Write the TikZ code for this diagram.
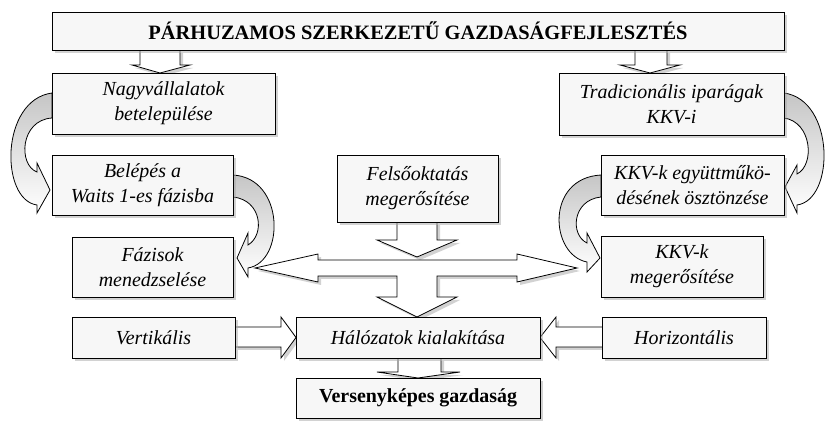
\documentclass[tikz,border=0pt]{standalone}
\usepackage{fontspec}
\setmainfont{Liberation Serif}
\usetikzlibrary{shadows}

\tikzset{
  box/.style={draw,thick,fill=gray!6,align=center,inner sep=2bp,
    font=\fontsize{20}{25}\selectfont\itshape,
    drop shadow={shadow xshift=3bp,shadow yshift=-3bp,fill=gray!70}},
  blockarrow/.style={draw,thick,fill=white,
    drop shadow={shadow xshift=3bp,shadow yshift=-3bp,fill=gray!70}},
  curvearrow/.style={draw,thick,top color=gray!45,bottom color=white}
}

\begin{document}
\begin{tikzpicture}[x=1bp,y=-1bp]
\useasboundingbox (0,0) rectangle (836,433);

% block arrows
\filldraw[blockarrow] (140,50)--(140,65)--(132,65)--(160,73)--(190,65)--(180,65)--(180,50);
\filldraw[blockarrow] (635,50)--(635,65)--(620,65)--(650,73)--(680,65)--(667,65)--(667,50);
\filldraw[blockarrow] (397,222)--(397,240)--(377,240)--(417,257)--(457,240)--(437,240)--(437,222);
\filldraw[blockarrow] (255,268)--(318,254)--(318,260)--(517,260)--(517,254)--(577,268)--(517,282)--(517,276)
  --(437,276)--(437,297)--(457,297)--(417,317)--(377,297)--(397,297)--(397,276)--(318,276)--(318,282)--cycle;
\filldraw[blockarrow] (235,327)--(281,327)--(281,317)--(296,337.5)--(281,358)--(281,347)--(235,347);
\filldraw[blockarrow] (602,327)--(556,327)--(556,317)--(540,337.5)--(556,358)--(556,347)--(602,347);
\filldraw[blockarrow] (398,358)--(398,372)--(377,372)--(418,378)--(460,372)--(441,372)--(441,358);

% curved arrows
\path[curvearrow] (52,93) .. controls (0,100) and (0,200) .. (37,205) -- (37,213) -- (50,190) -- (37,163) -- (37,172)
  .. controls (18,165) and (20,120) .. (52,118) -- cycle;
\path[curvearrow] (233,175) .. controls (285,178) and (285,262) .. (248,268) -- (248,277) -- (237,258) -- (248,233) -- (248,245)
  .. controls (265,235) and (262,200) .. (233,197) -- cycle;
\path[curvearrow] (784,93) .. controls (835,100) and (835,200) .. (797,205) -- (797,213) -- (785,187) -- (797,165) -- (797,174)
  .. controls (815,165) and (812,122) .. (784,118) -- cycle;
\path[curvearrow] (601,175) .. controls (545,178) and (550,255) .. (587,262) -- (587,272) -- (600,258) -- (587,233) -- (587,243)
  .. controls (570,235) and (572,200) .. (601,197) -- cycle;

% boxes
\node[box,minimum width=732bp,minimum height=38bp,font=\fontsize{20.5}{25}\selectfont\bfseries] (title) at (418,31)
  {PÁRHUZAMOS SZERKEZETŰ GAZDASÁGFEJLESZTÉS};
\node[box,minimum width=223bp,minimum height=61bp] (nagy) at (163.5,103.5) {Nagyvállalatok\\betelepülése};
\node[box,minimum width=225bp,minimum height=62bp] (trad) at (671.5,104) {Tradicionális iparágak\\KKV-i};
\node[box,minimum width=181bp,minimum height=60bp] (belepes) at (142.5,185) {Belépés a\\Waits 1-es fázisba};
\node[box,minimum width=161bp,minimum height=67bp] (felso) at (417.5,188.5) {Felsőoktatás\\megerősítése};
\node[box,minimum width=183bp,minimum height=60bp] (egyutt) at (692.5,185) {KKV-k együttműkö-\\désének ösztönzése};
\node[box,minimum width=161bp,minimum height=60bp] (fazis) at (152.5,267) {Fázisok\\menedzselése};
\node[box,minimum width=162bp,minimum height=61bp] (kkvmeg) at (682,266.5) {KKV-k\\megerősítése};
\node[box,minimum width=163bp,minimum height=41bp] (vert) at (153.5,337.5) {Vertikális};
\node[box,minimum width=244bp,minimum height=41bp] (halo) at (418,337.5) {Hálózatok kialakítása};
\node[box,minimum width=164bp,minimum height=41bp] (horiz) at (684,337.5) {Horizontális};
\node[box,minimum width=244bp,minimum height=40bp,font=\fontsize{20}{25}\selectfont\bfseries] (verseny) at (418,398)
  {Versenyképes gazdaság};

\end{tikzpicture}
\end{document}
